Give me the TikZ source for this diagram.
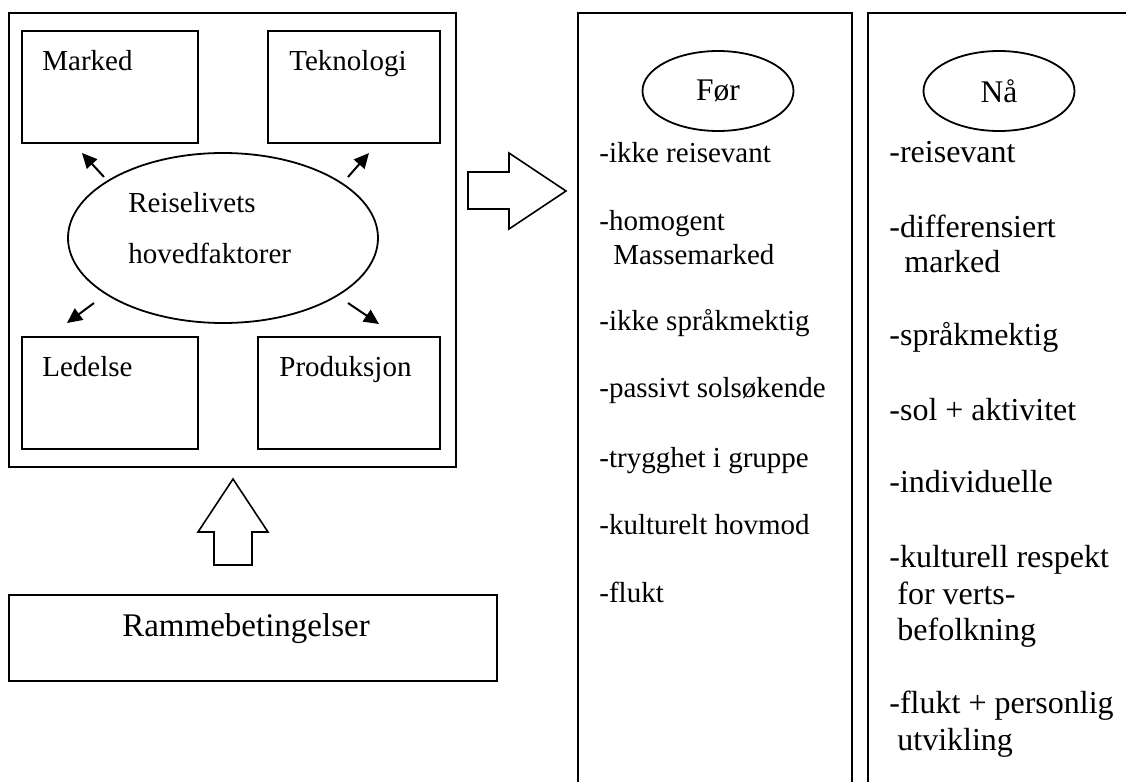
\documentclass[tikz,border=0pt]{standalone}
\usepackage{fontspec}
\setmainfont{Liberation Serif}
\usetikzlibrary{shapes.geometric,arrows.meta,fit}
\begin{document}
\begin{tikzpicture}[x=0.5pt,y=-0.5pt,
  box/.style={draw,line width=1pt,inner sep=0pt},
  oval/.style={draw,ellipse,line width=0.9pt,inner sep=0pt},
  lbl/.style={anchor=base west,inner sep=0pt,font=\fontsize{14.5pt}{17pt}\selectfont},
  lblc/.style={anchor=base,inner sep=0pt,font=\fontsize{16.5pt}{19pt}\selectfont},
  hdr/.style={inner sep=0pt,font=\fontsize{15.75pt}{18pt}\selectfont},
  fcol/.style={anchor=base west,inner sep=0pt,font=\fontsize{14.5pt}{17pt}\selectfont},
  ncol/.style={anchor=base west,inner sep=0pt,font=\fontsize{16pt}{19pt}\selectfont},
  sarrow/.style={line width=1pt,-{Triangle[length=7.5pt,width=7pt]}},
  bigarrow/.style={draw,line width=0.8pt,line join=miter}
]
\useasboundingbox (0,0) rectangle (1126,782);

% left frame and factor boxes
\node[box,fit={(9,13) (456,467)}] (outer) {};
\node[box,fit={(22,31) (198,143)}] (marked) {};
\node[box,fit={(268,31) (440,143)}] (tekn) {};
\node[box,fit={(22,337) (198,449)}] (ledelse) {};
\node[box,fit={(258,337) (440,449)}] (prod) {};
\node[lbl] (tmarked) at (42,70) {Marked};
\node[lbl] (ttekn) at (289,70) {Teknologi};
\node[lbl] (tled) at (42,376) {Ledelse};
\node[lbl] (tprod) at (279,376) {Produksjon};

% central ellipse
\node[oval,minimum width=155pt,minimum height=85pt] (hoved) at (223,238) {};
\node[lbl] (t1) at (128,212) {Reiselivets};
\node[lbl] (t2) at (128,263) {hovedfaktorer};

% small arrows
\coordinate (a1s) at (104,177); \coordinate (a1e) at (82,153);
\coordinate (a2s) at (348,177); \coordinate (a2e) at (369,153);
\coordinate (a3s) at (94,303);  \coordinate (a3e) at (67,323);
\coordinate (a4s) at (348,303); \coordinate (a4e) at (379,324);
\draw[sarrow] (a1s) -- (a1e);
\draw[sarrow] (a2s) -- (a2e);
\draw[sarrow] (a3s) -- (a3e);
\draw[sarrow] (a4s) -- (a4e);

% block arrows
\draw[bigarrow] (468,172) -- (509,172) -- (509,153) -- (566,191) -- (509,229) -- (509,209) -- (468,209) -- cycle;
\draw[bigarrow] (214,565) -- (214,532) -- (198,532) -- (233,479) -- (268,532) -- (252,532) -- (252,565) -- cycle;

% Rammebetingelser
\node[box,fit={(9,595) (497,681)}] (ramme) {};
\node[lblc] (tramme) at (246,636) {Rammebetingelser};

% columns
\node[box,fit={(578,13) (852,810)}] (forcol) {};
\node[box,fit={(868,13) (1150,810)}] (naacol) {};
\node[oval,minimum width=75.5pt,minimum height=40pt] (forov) at (718,91) {};
\node[hdr] (tfor) at (forov) {Før};
\node[oval,minimum width=75.5pt,minimum height=40pt] (naaov) at (999,91) {};
\node[hdr] (tnaa) at (naaov) {Nå};

\node[fcol] (f1) at (599,162) {-ikke reisevant};
\node[fcol] (f2) at (599,230) {-homogent};
\node[fcol] (f2b) at (613,264) {Massemarked};
\node[fcol] (f3) at (599,330) {-ikke språkmektig};
\node[fcol] (f4) at (599,397) {-passivt solsøkende};
\node[fcol] (f5) at (599,467) {-trygghet i gruppe};
\node[fcol] (f6) at (599,534) {-kulturelt hovmod};
\node[fcol] (f7) at (599,602) {-flukt};

\node[ncol] (n1) at (889,162) {-reisevant};
\node[ncol] (n2) at (889,237) {-differensiert};
\node[ncol] (n2b) at (904,272) {marked};
\node[ncol] (n3) at (889,345) {-språkmektig};
\node[ncol] (n4) at (889,420) {-sol + aktivitet};
\node[ncol] (n5) at (889,492) {-individuelle};
\node[ncol] (n6) at (889,567) {-kulturell respekt};
\node[ncol] (n6b) at (897,604) {for verts-};
\node[ncol] (n6c) at (897,640) {befolkning};
\node[ncol] (n7) at (889,713) {-flukt + personlig};
\node[ncol] (n7b) at (897,750) {utvikling};
\end{tikzpicture}
\end{document}
